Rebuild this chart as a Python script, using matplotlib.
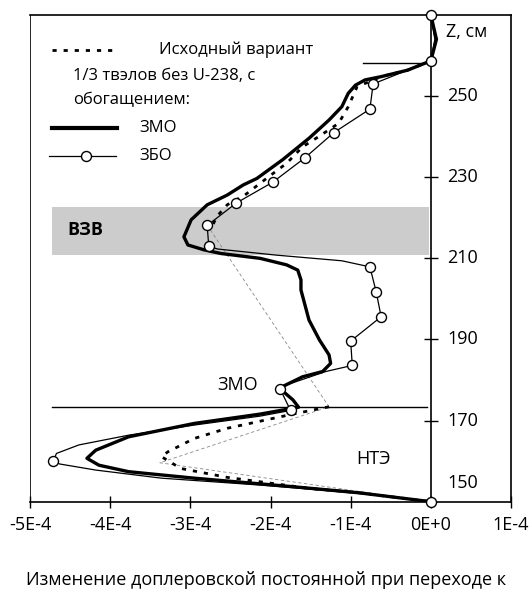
import matplotlib
matplotlib.use("Agg")
import matplotlib.pyplot as plt
from matplotlib.ticker import FixedLocator
from matplotlib.lines import Line2D
import numpy as np

plt.rcParams['font.family'] = ['Open Sans', 'DejaVu Sans']

# ---- data (x in units of 1E-4, z in cm) ----
z_3mo = [270, 264, 258.7, 256.4, 254.8, 254.0, 252.7, 250.7, 247.4, 244.1, 239.6,
         234.3, 229.7, 228.1, 225.6, 223.2, 219.5, 215.3, 213.3, 212.1, 211.2,
         210.0, 208.4, 207.1, 204.7, 202.2, 194.8, 189.9, 186.2, 184.1, 182.1,
         180.8, 178.0, 175.1, 173.3, 171.6, 169.3, 166.0, 162.7, 160.7, 159.0,
         157.4, 155.8, 153.7, 152.2, 150]
x_3mo = [0, 0.07, 0, -0.29, -0.62, -0.82, -0.94, -1.03, -1.11, -1.27, -1.52,
         -1.85, -2.17, -2.34, -2.54, -2.79, -2.99, -3.08, -3.03, -2.83, -2.62,
         -2.13, -1.80, -1.66, -1.62, -1.62, -1.52, -1.39, -1.27, -1.25, -1.35,
         -1.60, -1.89, -1.72, -1.65, -2.13, -2.95, -3.77, -4.18, -4.29, -4.14,
         -3.77, -2.95, -1.72, -0.90, 0]

z_3bo = [270, 264, 258.7, 253.0, 246.8, 241.0, 234.8, 228.8, 223.6, 218.1, 213.0,
         212.3, 210.8, 209.4, 207.9, 201.6, 195.6, 189.6, 183.6, 182.1, 178.8,
         177.8, 172.5, 171.1, 168.9, 166.4, 164.0, 161.9, 160.0, 159.3, 157.8,
         155.8, 154.1, 152.1, 150]
x_3bo = [0, 0.05, 0, -0.72, -0.76, -1.21, -1.57, -1.97, -2.43, -2.79, -2.77,
         -2.66, -1.93, -1.11, -0.76, -0.68, -0.62, -1.00, -0.98, -1.31, -1.80,
         -1.88, -1.75, -2.13, -2.95, -3.77, -4.39, -4.67, -4.71, -4.63, -4.18,
         -3.36, -2.13, -0.90, 0]
marker_idx_3bo = [0, 2, 3, 4, 5, 6, 7, 8, 9, 10, 14, 15, 16, 17, 18, 21, 22, 28, 34]

z_orig = [258.7, 256.4, 254.8, 252.3, 247.4, 243.3, 240.0, 237.5, 233.4, 231.8,
          228.5, 225.6, 223.2, 220.3, 217.0, np.nan,
          173.4, 171.6, 168.1, 165.6, 162.3, 161.1, 158.2, 156.0, 153.3, 152.2, 150]
x_orig = [0, -0.29, -0.62, -0.92, -1.03, -1.15, -1.40, -1.60, -1.80, -1.91,
          -2.13, -2.32, -2.54, -2.67, -2.75, np.nan,
          -1.27, -1.72, -2.54, -2.95, -3.28, -3.36, -3.12, -2.54, -1.52, -0.90, 0]

z_coarse = [217.0, 173.4, 159.6, 150]
x_coarse = [-2.75, -1.27, -3.38, 0]

x_ticks = [-5, -4, -3, -2, -1, 0, 1]
x_tick_labels = ['-5E-4', '-4E-4', '-3E-4', '-2E-4', '-1E-4', '0E+0', '1E-4']
z_ticks = [250, 230, 210, 190, 170]
z_tick_labels = ['250', '230', '210', '190', '170']

zone_vzv = (210.8, 222.7)
z_lines = [258.2, 173.4]
z_lines_xstart = [-0.84, -4.72]

scale = 1e-4

fig = plt.figure(figsize=(5.31, 5.91), dpi=100)
W, H = 531, 591
L, R, T, B = 30, 511, 15, 501.7
ax = fig.add_axes([L / W, 1 - B / H, (R - L) / W, (B - T) / H])
ax.set_xlim(-5 * scale, 1 * scale)
ax.set_ylim(150, 270)

# gray band
ax.fill_between([-4.72 * scale, -0.02 * scale], zone_vzv[0], zone_vzv[1],
                color='#cccccc', lw=0, zorder=1)
# horizontal zone lines
for zl, xs0 in zip(z_lines, z_lines_xstart):
    ax.plot([xs0 * scale, -0.05 * scale], [zl, zl], color='black', lw=1.0, zorder=2)

xs = lambda a: [v * scale for v in a]
ax.plot(xs(x_coarse), z_coarse, color='#888888', lw=0.6, ls=(0, (4, 3)), zorder=3)
ax.plot(xs(x_orig), z_orig, color='black', lw=2.0, ls=(0, (1.5, 2.5)), zorder=4)
ax.plot(xs(x_3mo), z_3mo, color='black', lw=2.4, zorder=5, solid_joinstyle='round')
ax.plot(xs(x_3bo), z_3bo, color='black', lw=0.9, zorder=6, marker='o', ms=7.2,
        mfc='white', mec='black', mew=1.0, markevery=marker_idx_3bo, clip_on=False)

# axes styling
for s in ax.spines.values():
    s.set_linewidth(1.2)
    s.set_color('black')
ax.spines['left'].set_position(('data', 0))
ax.axvline(-5 * scale, color='black', lw=1.2, zorder=0)

ax.xaxis.set_major_locator(FixedLocator([t * scale for t in x_ticks]))
ax.set_xticklabels(x_tick_labels)
ax.tick_params(axis='x', direction='inout', length=8, width=1, labelsize=13, pad=6)
ax.yaxis.set_major_locator(FixedLocator(z_ticks))
ax.tick_params(axis='y', direction='inout', length=10, width=1, labelleft=False)
for zt, lbl in zip(z_ticks, z_tick_labels):
    ax.annotate(lbl, (0, zt), xytext=(12, 0), textcoords='offset points',
                ha='left', va='center', fontsize=13)
ax.annotate('150', (0, 154.6), xytext=(12, 0), textcoords='offset points',
            ha='left', va='center', fontsize=13)
ax.annotate('Z, см', (0, 265.8), xytext=(11, 0), textcoords='offset points',
            ha='left', va='center', fontsize=13)

# zone labels
ax.text(-4.53 * scale, 217, 'ВЗВ', fontsize=13, fontweight='bold', va='center', ha='left')
ax.text(-2.41 * scale, 178.8, 'ЗМО', fontsize=13, va='center', ha='center')
ax.text(-0.71 * scale, 160.5, 'НТЭ', fontsize=13, va='center', ha='center')

# legend (manual)
tA = ax.transAxes
ax.add_line(Line2D([0.045, 0.178], [0.928, 0.928], transform=tA, color='black',
                   lw=2.0, ls=(0, (1.5, 2.5))))
ax.text(0.268, 0.928, 'Исходный вариант', transform=tA, fontsize=12, va='center')
ax.text(0.090, 0.875, '1/3 твэлов без U-238, с', transform=tA, fontsize=12, va='center')
ax.text(0.090, 0.825, 'обогащением:', transform=tA, fontsize=12, va='center')
ax.add_line(Line2D([0.045, 0.181], [0.768, 0.768], transform=tA, color='black', lw=3.0))
ax.text(0.227, 0.768, 'ЗМО', transform=tA, fontsize=12, va='center')
ax.add_line(Line2D([0.039, 0.178], [0.710, 0.710], transform=tA, color='black', lw=0.9))
ax.add_line(Line2D([0.117], [0.710], transform=tA, marker='o', ms=7.2, mfc='white',
                   mec='black', mew=1.0, ls='none'))
ax.text(0.227, 0.710, 'ЗБО', transform=tA, fontsize=12, va='center')

fig.text(266 / W, 1 - 580 / H, 'Изменение доплеровской постоянной при переходе к',
         ha='center', va='center', fontsize=13)

fig.savefig('out.png', dpi=100)
